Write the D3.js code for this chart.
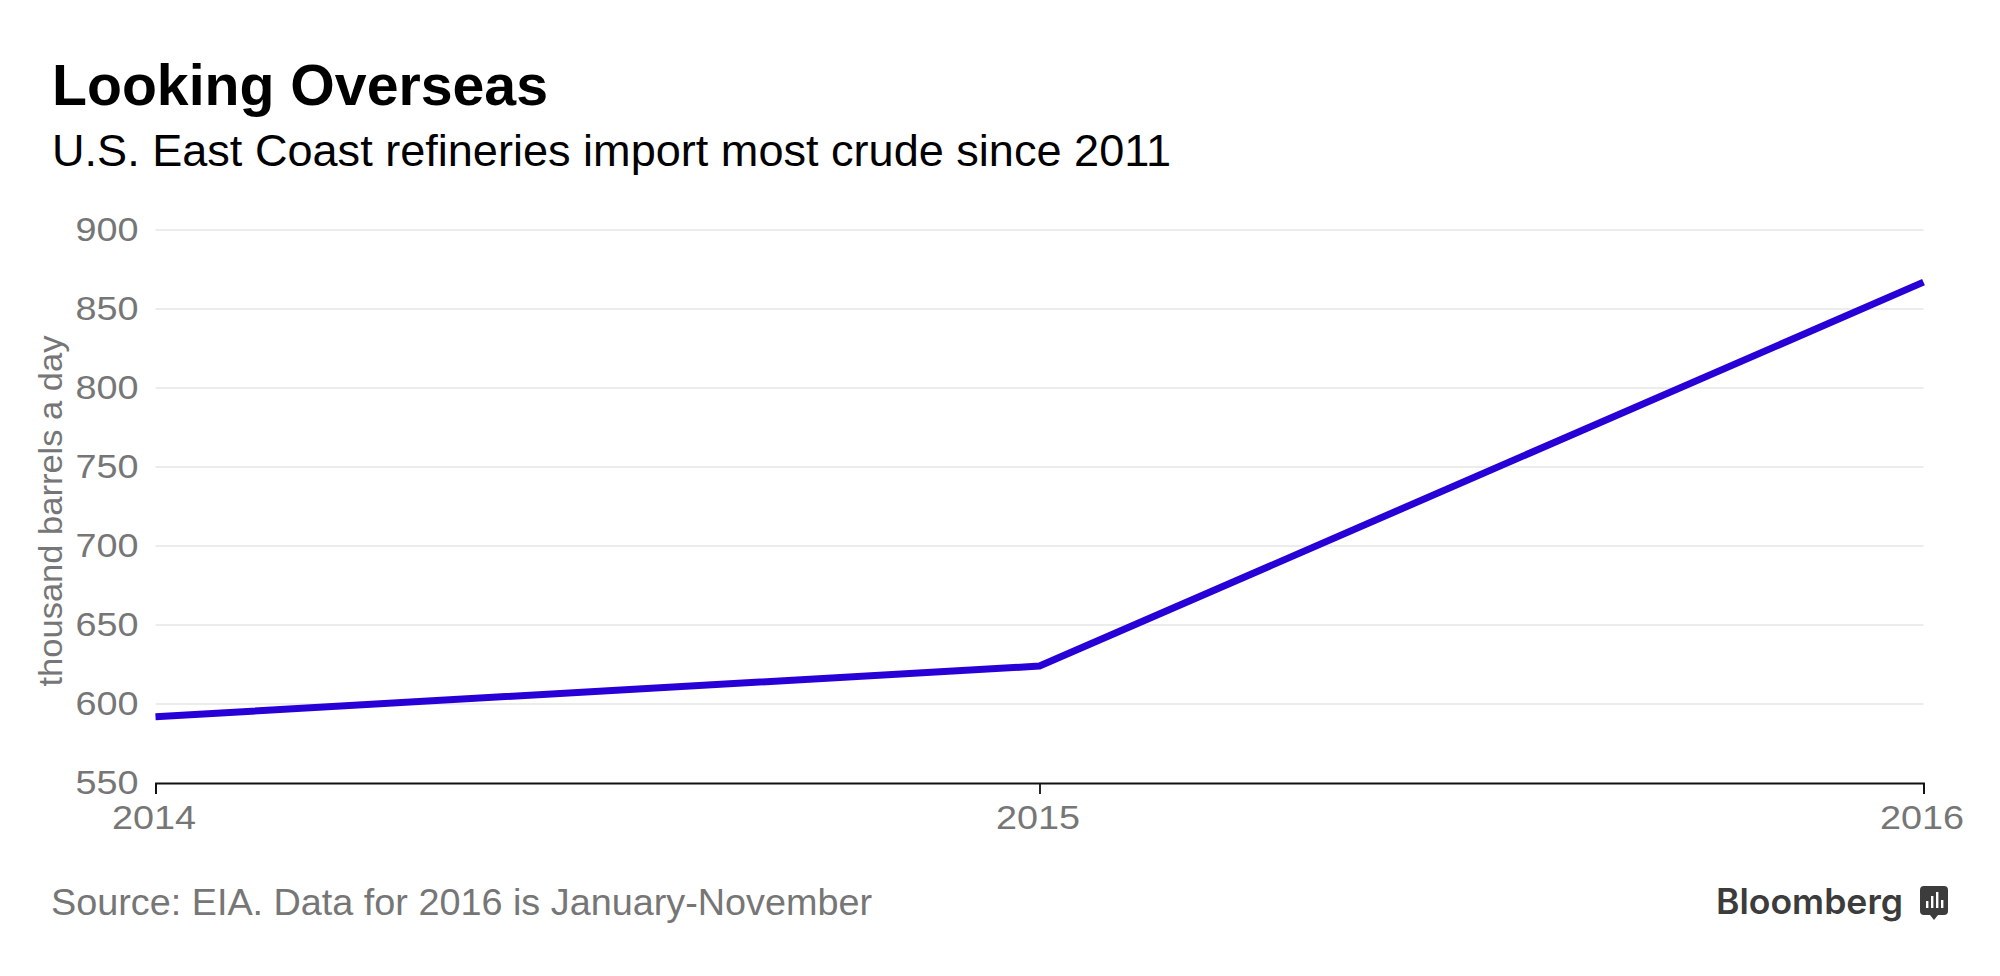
<!DOCTYPE html>
<html><head><meta charset="utf-8">
<script src="https://cdn.jsdelivr.net/npm/d3@7"></script>
<style>html,body{margin:0;padding:0;background:#fff}svg{display:block}text{font-family:"Liberation Sans",Arial,sans-serif}</style>
</head><body><svg id="c" width="2000" height="976"></svg>
<script>
const titleText = "Looking Overseas";
const subtitleText = "U.S. East Coast refineries import most crude since 2011";
const sourceText = "Source: EIA. Data for 2016 is January-November";
const yLabel = "thousand barrels a day";
const years = [2014, 2015, 2016];
const imports = [592, 624, 867];
const yTicks = [550, 600, 650, 700, 750, 800, 850, 900];

const svg = d3.select("#c");
const x = d3.scaleLinear().domain([2014, 2016]).range([155.5, 1923.5]);
const y = d3.scaleLinear().domain([550, 900]).range([783, 230]);
const grey = "#767676";

function label(txt, px, py, size, len, fill, weight, anchor) {
  return svg.append("text").attr("x", px).attr("y", py).attr("font-size", size)
    .attr("fill", fill).attr("font-weight", weight || 400).attr("text-anchor", anchor || "start")
    .attr("textLength", len).attr("lengthAdjust", "spacingAndGlyphs").text(txt);
}
label(titleText, 52, 105, 57, 496, "#000", 700);
label(subtitleText, 52, 166, 44, 1119, "#000");
label(sourceText, 51, 915, 36, 821, grey);
label(yLabel, 0, 0, 34, 351, grey, 400, "middle").attr("transform", "translate(62,511) rotate(-90)");

const gy = svg.append("g").attr("transform", "translate(155.5,0)")
  .call(d3.axisLeft(y).tickValues(yTicks).tickSize(0).tickPadding(17).offset(0));
gy.attr("font-family", null);
gy.select(".domain").remove();
gy.selectAll("text").attr("font-size", 33).attr("fill", grey)
  .attr("textLength", 63).attr("lengthAdjust", "spacingAndGlyphs").attr("dy", "10.5");
gy.selectAll(".tick").filter(d => d !== 550).append("line")
  .attr("x1", 0).attr("x2", 1768).attr("stroke", "#e6e6e6").attr("stroke-width", 1.6);

const gx = svg.append("g").attr("transform", "translate(0,783)")
  .call(d3.axisBottom(x).tickValues(years).tickFormat(d3.format("d")).tickSize(11).tickSizeOuter(11).tickPadding(13));
gx.attr("font-family", null);
gx.select(".domain").attr("stroke", "#111").attr("stroke-width", 1.8);
gx.selectAll(".tick line").attr("stroke", "#111").attr("stroke-width", 1.8);
gx.selectAll("text").attr("font-size", 33).attr("fill", grey).attr("textLength", 84)
  .attr("lengthAdjust", "spacingAndGlyphs").attr("dy", 0).attr("y", 46).attr("x", -2);

const line = d3.line().x((d, i) => x(years[i])).y(d => y(d));
svg.append("path").datum(imports).attr("d", line).attr("fill", "none")
  .attr("stroke", "#2800d7").attr("stroke-width", 7).attr("stroke-linejoin", "round");

// Bloomberg wordmark
svg.append("text").attr("x", 1716).attr("y", 914).attr("font-size", 35)
  .attr("font-weight", 600).attr("fill", "#3c3c3c")
  .attr("textLength", 187).attr("lengthAdjust", "spacingAndGlyphs").style("font-family", "Inter,sans-serif").text("Bloomberg");
const logo = svg.append("g").attr("transform", "translate(1920,886)");
logo.append("path").attr("fill", "#3c3c3c")
  .attr("d", "M4 0H24Q28 0 28 4V25Q28 29 24 29H18L14 34L10 29H4Q0 29 0 25V4Q0 0 4 0Z");
[[6, 15, 7], [11, 10, 12], [16, 6, 16], [21, 14, 8]].forEach(b =>
  logo.append("rect").attr("x", b[0]).attr("y", b[1]).attr("width", 2.4).attr("height", b[2]).attr("fill", "#fff"));
</script></body></html>
